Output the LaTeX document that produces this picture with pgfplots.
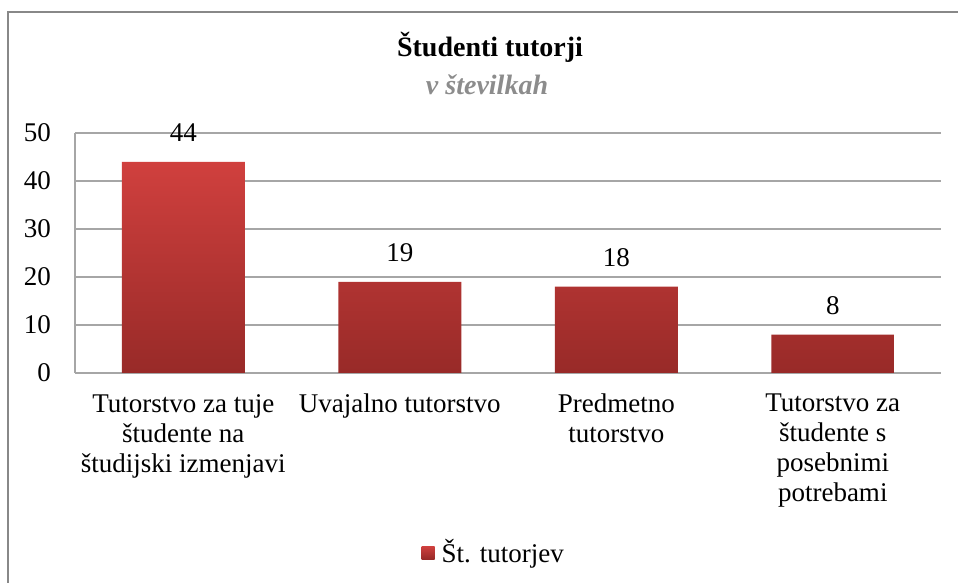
\documentclass[border=0pt]{standalone}
\usepackage{pgfplots}
\pgfplotsset{compat=1.18}
\usepackage{fontspec}
\setmainfont{Liberation Serif}
\definecolor{bartop}{RGB}{208,64,62}
\definecolor{barbot}{RGB}{152,42,40}
\definecolor{gridc}{RGB}{166,166,166}
\definecolor{framec}{RGB}{136,136,136}
\definecolor{subc}{RGB}{140,140,140}
\begin{document}
\begin{tikzpicture}[x=1pt,y=1pt]
\useasboundingbox (0,0) rectangle (958,583);
\draw[framec, line width=2.5pt] (8,-2) -- (8,571) -- (960,571);
\node[font=\fontsize{28}{32}\selectfont\bfseries] at (490,536) {Študenti tutorji};
\node[font=\fontsize{28}{32}\selectfont\bfseries\itshape, text=subc] at (487,498) {v številkah};
\begin{axis}[
  at={(75pt,210pt)}, anchor=south west,
  scale only axis, width=866pt, height=240pt,
  xmin=-0.5, xmax=3.5, ymin=0, ymax=50,
  ytick={0,10,...,50}, xtick={0,1,2,3},
  xticklabels={{Tutorstvo za tuje\\študente na\\študijski izmenjavi},{Uvajalno tutorstvo},{Predmetno\\tutorstvo},{Tutorstvo za\\študente s\\posebnimi\\potrebami}},
  /pgf/number format/assume math mode=true,
  axis lines*=left,
  axis line style={gridc, line width=1.3pt},
  ymajorgrids, grid style={gridc, line width=1.3pt},
  major tick length=0pt, tick style={draw=none},
  ticklabel style={font=\fontsize{27}{30}\selectfont},
  xticklabel style={align=center, anchor=north, inner sep=0pt, yshift=-21pt},
  yticklabel style={anchor=east, inner sep=0pt, xshift=-24pt},
  clip=false,
  legend style={at={(0.4835,-0.746)}, anchor=center, draw=none, fill=none, font=\fontsize{27}{30}\selectfont},
  legend image code/.code={\path[top color=bartop, bottom color=barbot] (0pt,-7pt) rectangle (13pt,6pt); \path (0pt,0pt) -- (18pt,0pt);},
]
\addplot[ybar, bar width=123pt, draw=none, top color=bartop, bottom color=barbot,
  nodes near coords,
  nodes near coords style={anchor=south, inner sep=0pt, yshift=20pt, font=\fontsize{27}{30}\selectfont, text=black}]
  coordinates {(0,44) (1,19) (2,18) (3,8)};
\addlegendentry{Št. tutorjev}
\end{axis}
\end{tikzpicture}
\end{document}
